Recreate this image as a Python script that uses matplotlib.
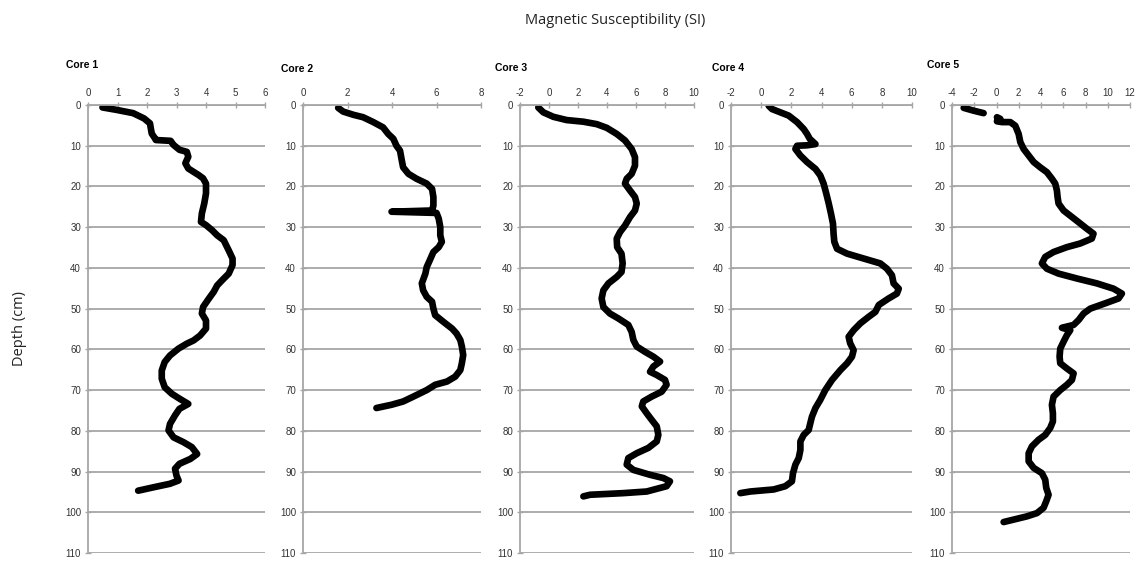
import numpy as np
import matplotlib
matplotlib.use("Agg")
import matplotlib.pyplot as plt

# ---------------- data ----------------
core1_val = [0.49, 0.97, 1.53, 1.9, 2.1, 2.16, 2.27, 2.3, 2.8, 2.9, 3.1, 3.35, 3.4, 3.3, 3.4, 3.75, 3.9, 4.0,
             4.0, 3.94, 3.86, 3.83, 4.0, 4.2, 4.38, 4.6, 4.77, 4.9, 4.9, 4.77, 4.55, 4.38, 4.26, 4.1, 3.9, 3.86,
             4.0, 4.0, 3.8, 3.58, 3.35, 3.07, 2.78, 2.6, 2.5, 2.5, 2.6, 2.84, 3.1, 3.4, 3.1, 2.95, 2.78, 2.73,
             2.9, 3.24, 3.52, 3.7, 3.47, 3.1, 2.95, 3.0, 3.07, 2.78, 2.2, 1.7]
core1_depth = [0.6, 1.2, 2.0, 3.3, 4.5, 7.0, 8.2, 8.6, 8.8, 9.8, 11.0, 11.5, 12.7, 14.3, 15.6, 17.2, 18.0, 19.3,
               21.7, 24.2, 26.6, 28.7, 29.5, 30.7, 32.0, 33.2, 35.7, 37.7, 39.3, 41.4, 43.0, 44.3, 45.9, 47.5, 49.6, 51.2,
               52.9, 54.9, 56.6, 57.8, 58.6, 59.8, 61.5, 63.1, 65.2, 67.2, 69.3, 70.9, 72.1, 73.4, 74.6, 76.2, 78.3, 79.9,
               81.6, 82.8, 84.0, 85.7, 86.9, 88.1, 89.3, 91.0, 92.2, 93.0, 93.9, 94.7]

core2_val = [1.58, 1.8, 2.26, 2.7, 3.16, 3.6, 3.83, 4.06, 4.2, 4.36, 4.44, 4.5, 4.74, 5.1, 5.56, 5.8, 5.86, 5.86,
             5.8, 3.98, 6.0, 6.1, 6.17, 6.17, 6.24, 6.1, 5.86, 5.7, 5.56, 5.5, 5.34, 5.4, 5.56, 5.8, 5.86, 5.94,
             6.3, 6.7, 6.9, 7.07, 7.14, 7.2, 7.14, 7.07, 6.84, 6.47, 5.94, 5.56, 4.96, 4.5, 3.98, 3.3]
core2_depth = [0.7, 1.6, 2.4, 3.0, 4.2, 5.5, 7.1, 8.3, 10.0, 11.2, 13.6, 15.3, 16.9, 18.1, 19.3, 20.6, 22.6, 24.7,
               25.9, 26.2, 26.5, 27.9, 30.0, 32.0, 33.6, 34.9, 36.1, 38.1, 39.8, 41.4, 43.8, 45.5, 47.1, 48.3, 50.0, 51.6,
               53.2, 54.9, 56.1, 57.7, 59.3, 61.4, 63.4, 65.1, 66.7, 67.9, 68.7, 70.0, 71.6, 72.8, 73.6, 74.4]

core3_val = [-0.74, -0.39, 0.3, 1.22, 2.37, 3.29, 3.98, 4.67, 5.24, 5.7, 5.93, 5.93, 5.7, 5.36, 5.24, 5.59, 5.93,
             6.05, 5.93, 5.59, 5.24, 4.9, 4.67, 4.7, 5.0, 5.08, 5.0, 4.67, 4.1, 3.75, 3.63, 3.75, 4.2, 4.78, 5.47,
             5.7, 5.82, 6.05, 6.62, 7.2, 7.66, 7.2, 6.97, 7.43, 8.0, 8.11, 7.77, 7.08, 6.5, 6.4, 6.74, 7.08, 7.43,
             7.54, 7.43, 6.85, 6.05, 5.47, 5.36, 5.82, 6.97, 7.89, 8.34, 8.11, 6.74, 5.13, 2.83, 2.37]
core3_depth = [0.6, 1.8, 2.9, 3.7, 4.1, 4.7, 5.6, 7.1, 8.7, 10.8, 12.8, 14.9, 16.9, 18.1, 19.3, 21.0, 22.6,
               24.2, 25.9, 27.5, 29.6, 31.2, 32.8, 34.9, 36.5, 38.9, 41.0, 42.2, 43.8, 45.5, 47.5, 49.6, 51.2, 52.4, 54.0,
               55.7, 57.7, 59.3, 60.6, 61.8, 63.0, 64.2, 65.5, 66.3, 67.5, 68.7, 70.4, 71.6, 72.8, 74.0, 75.7, 77.3, 78.9,
               81.0, 82.6, 84.2, 85.5, 86.7, 88.3, 89.6, 90.8, 91.6, 92.4, 93.6, 94.9, 95.3, 95.7, 96.1]

core4_val = [0.5, 0.72, 1.27, 1.82, 2.38, 2.82, 3.04, 3.22, 3.6, 3.04, 2.38, 2.27, 2.6, 3.04, 3.6, 3.92, 4.14,
             4.32, 4.48, 4.63, 4.76, 4.8, 4.85, 5.03, 5.7, 6.8, 7.9, 8.34, 8.67, 8.78, 9.12, 9.0, 8.45, 7.8, 7.57,
             7.13, 6.58, 6.13, 5.8, 5.9, 6.13, 6.02, 5.7, 5.25, 4.7, 4.25, 3.92, 3.6, 3.37, 3.26, 3.15, 2.82, 2.6,
             2.6, 2.49, 2.27, 2.11, 2.04, 1.6, 0.83, -0.72, -1.38]
core4_depth = [0.2, 1.0, 1.8, 2.6, 4.2, 5.9, 7.1, 8.3, 9.6, 9.9, 10.0, 10.8, 12.4, 14.0, 15.7, 17.3, 19.3,
               21.8, 24.2, 26.7, 29.1, 31.6, 33.6, 35.3, 36.5, 37.7, 38.9, 40.2, 41.8, 43.8, 45.1, 46.3, 47.5, 49.1, 50.8,
               52.0, 53.6, 55.3, 56.9, 58.5, 60.2, 61.8, 63.4, 65.1, 67.5, 70.0, 72.4, 74.4, 76.5, 78.1, 79.8, 81.0, 82.6,
               84.7, 86.7, 88.3, 90.4, 92.4, 93.6, 94.4, 94.9, 95.3]

core5_val = [-2.95, -2.05, -1.16, np.nan, 0.04, 0.34, 0.04, 0.49, 1.24, 1.69, 1.99, 2.14, 2.44, 2.89, 3.34, 3.93,
             4.53, 4.98, 5.28, 5.43, 5.49, 5.58, 6.03, 6.78, 7.53, 8.13, 8.72, 8.57, 7.53, 6.33, 5.13, 4.38, 4.08,
             4.53, 5.58, 7.23, 9.02, 10.52, 11.27, 10.97, 9.77, 8.43, 7.83, 7.38, 6.93, 6.33, 5.88, 6.63, 6.33, 6.03,
             5.73, 5.67, 5.73, 6.33, 6.93, 6.78, 6.33, 5.73, 5.13, 4.98, 5.07, 5.07, 4.83, 4.38, 3.78, 3.19, 2.89,
             2.89, 3.34, 4.08, 4.38, 4.47, 4.68, 4.47, 4.23, 3.64, 2.74, 1.54, 0.64]
core5_depth = [0.7, 1.4, 2.0, 2.5, 3.0, 3.4, 4.0, 4.2, 4.2, 5.1, 7.1, 9.1, 10.8, 12.4, 14.0, 15.3,
               16.5, 18.1, 19.3, 21.0, 22.6, 24.2, 25.9, 27.5, 29.1, 30.4, 31.6, 32.8, 34.0, 34.9, 36.1, 37.3, 38.9,
               40.2, 41.4, 42.6, 43.8, 45.1, 46.3, 47.5, 48.7, 50.0, 51.2, 52.8, 54.0, 54.4, 54.7, 55.3, 56.5, 58.1,
               59.8, 61.8, 63.4, 64.7, 65.9, 67.5, 68.7, 70.0, 71.6, 73.6, 75.7, 77.7, 79.3, 81.0, 82.2, 83.8, 85.5,
               87.5, 89.1, 90.4, 92.0, 94.0, 95.7, 97.3, 98.9, 100.2, 101.0, 101.8, 102.4]

core_names = ["Core 1", "Core 2", "Core 3", "Core 4", "Core 5"]
x_limits = [(0, 6), (0, 8), (-2, 10), (-2, 10), (-4, 12)]
x_steps = [1, 2, 2, 2, 2]
depth_ticks = list(range(0, 111, 10))
values = [core1_val, core2_val, core3_val, core4_val, core5_val]
depths = [core1_depth, core2_depth, core3_depth, core4_depth, core5_depth]

# ---------------- layout ----------------
W, H = 1140, 564
fig = plt.figure(figsize=(W / 100, H / 100), dpi=100)
plt.rcParams['font.family'] = ['Liberation Sans', 'DejaVu Sans']

ax_left_px = [88, 303, 520, 731, 952]
ax_right_px = [265, 481, 694, 912, 1130]
title_px = [(66, 65), (281, 69), (495, 68), (712, 68), (927, 65)]
top_px, bot_px = 105, 553

grid_col = "#a6a6a6"
for i in range(5):
    l = ax_left_px[i] / W
    w = (ax_right_px[i] - ax_left_px[i]) / W
    b = 1 - bot_px / H
    h = (bot_px - top_px) / H
    ax = fig.add_axes([l, b, w, h])
    ax.plot(values[i], depths[i], color="black", lw=4.8, solid_capstyle="round",
            solid_joinstyle="round")
    ax.set_xlim(*x_limits[i])
    ax.set_ylim(110, 0)
    xt = np.arange(x_limits[i][0], x_limits[i][1] + 0.01, x_steps[i])
    ax.set_xticks(xt)
    ax.set_xticklabels([f"{int(v)}" for v in xt])
    ax.set_yticks(depth_ticks)
    ax.set_yticklabels([str(v) for v in depth_ticks])
    ax.xaxis.tick_top()
    for s in ["right", "bottom"]:
        ax.spines[s].set_visible(False)
    for s in ["left", "top"]:
        ax.spines[s].set_color(grid_col)
        ax.spines[s].set_linewidth(1.3)
    ax.tick_params(axis="both", direction="inout", length=4, width=1, color=grid_col,
                   labelsize=7, labelcolor="#333333", pad=3)
    ax.yaxis.grid(True, color=grid_col, lw=1.3)
    ax.set_axisbelow(True)
    ax.patch.set_alpha(0)
    tx, ty = title_px[i]
    fig.text(tx / W, 1 - ty / H, core_names[i], fontsize=7.5, fontweight="bold",
             ha="left", va="center", color="black")

fig.text(615 / W, 1 - 20 / H, "Magnetic Susceptibility (SI)", fontsize=10.5,
         family=["Open Sans", "DejaVu Sans"], ha="center", va="center", color="#222222")
fig.text(20 / W, 1 - 328 / H, "Depth (cm)", fontsize=10.5, rotation=90,
         family=["Open Sans", "DejaVu Sans"], ha="center", va="center", color="#222222")

fig.savefig("out.png", dpi=100)
